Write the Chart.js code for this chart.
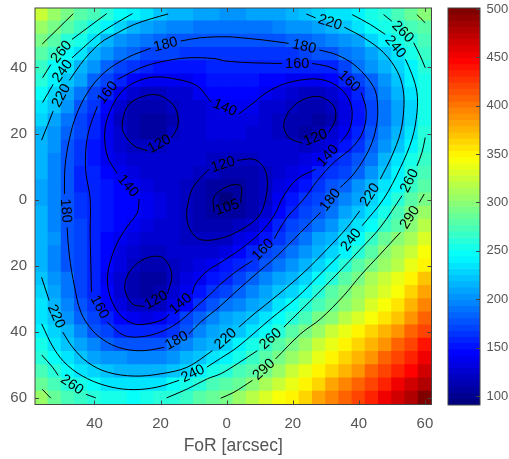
<!DOCTYPE html>
<html>
<head>
<meta charset="utf-8">
<script src="https://cdn.jsdelivr.net/npm/chart.js@4"></script>
<style>
html, body { margin: 0; background: #fff; }
canvas { position: absolute; top: 0; filter: blur(0.35px); }
#myChart { left: 0; }
#colorBar { left: 440px; }
</style>
</head>
<body>
<canvas id="myChart" width="440" height="459"></canvas>
<canvas id="colorBar" width="69" height="459"></canvas>
<script>
// cell centres, in arcsec
var xCenters = [-56,-52,-48,-44,-40,-36,-32,-28,-24,-20,-16,-12,-8,-4,0,4,8,12,16,20,24,28,32,36,40,44,48,52,56,60];
var yCenters = [-56,-52,-48,-44,-40,-36,-32,-28,-24,-20,-16,-12,-8,-4,0,4,8,12,16,20,24,28,32,36,40,44,48,52,56,60];
var xTicks = [-40,-20,0,20,40,60];
var yTicks = [-40,-20,0,20,40,60];
var barTicks = [100,150,200,250,300,350,400,450,500];

var rows = [
    [322,305,293,282,271,259,250,240,232,224,218,214,210,207,206,206,207,209,212,216,220,226,232,237,244,252,261,272,285,298],
    [305,294,280,266,255,241,227,217,208,202,198,194,191,190,189,190,191,193,196,200,204,209,214,221,236,245,252,260,272,283],
    [292,278,262,251,236,216,205,197,189,183,180,178,176,175,175,175,176,177,179,181,185,190,196,203,211,226,244,252,260,271],
    [278,264,249,236,214,204,193,181,174,170,168,166,165,164,163,163,163,163,164,166,170,175,179,188,197,209,223,237,252,264],
    [266,249,236,216,200,184,172,163,155,152,152,153,154,156,158,158,158,157,156,155,155,156,160,174,187,201,215,229,243,259],
    [260,241,222,207,185,170,156,142,137,136,137,141,145,149,152,152,150,147,143,140,137,138,146,156,170,186,205,222,240,257],
    [250,229,212,192,172,159,140,127,121,120,123,128,137,143,146,147,144,139,132,126,122,120,127,141,157,175,195,214,232,254],
    [237,220,202,180,163,146,129,115,112,112,119,124,129,135,138,140,136,129,123,118,113,111,118,132,150,169,190,210,229,252],
    [229,211,191,172,157,140,122,111,107,109,115,123,129,132,134,134,131,126,120,112,110,107,116,131,149,170,189,211,231,252],
    [218,205,184,169,155,137,123,111,107,109,120,125,129,131,131,131,129,126,122,112,108,110,125,138,155,175,197,218,238,258],
    [216,200,180,164,152,138,129,120,118,120,124,127,128,127,126,125,126,127,127,124,122,125,135,149,166,183,206,225,243,261],
    [215,197,177,163,152,141,134,129,126,125,124,124,123,122,121,120,120,123,125,128,133,137,157,167,176,193,213,236,254,268],
    [213,195,176,158,155,146,138,132,128,126,125,124,122,118,113,113,115,121,127,133,139,155,165,174,184,205,223,241,258,275],
    [212,194,176,158,156,149,143,136,130,127,125,122,116,109,104,105,112,120,131,141,154,165,175,186,201,216,233,250,264,282],
    [212,194,178,165,157,152,147,142,136,130,126,122,113,106,92,104,112,120,136,150,163,172,182,197,212,228,243,259,279,294],
    [213,196,178,165,158,152,148,142,136,131,127,120,113,106,105,107,114,127,145,161,170,179,192,207,221,238,254,273,291,304],
    [215,198,180,168,158,151,144,136,131,127,124,121,116,111,112,118,129,141,160,170,180,193,205,219,237,250,264,280,297,317],
    [216,200,180,168,157,146,137,131,127,125,124,122,120,119,122,131,140,153,165,179,192,207,217,232,248,264,287,301,315,331],
    [216,197,179,169,156,145,134,128,121,122,125,126,127,129,135,143,155,169,179,190,202,213,226,243,262,283,298,312,327,343],
    [218,199,179,168,156,143,132,122,116,114,122,126,130,138,149,158,167,177,189,200,215,228,244,262,279,292,306,320,335,352],
    [221,203,187,172,156,141,127,113,107,108,121,132,140,150,160,172,183,198,207,218,231,245,260,281,295,309,323,338,353,367],
    [227,209,190,172,156,142,127,113,108,110,125,136,149,163,173,184,196,208,219,231,244,260,278,291,305,319,333,347,364,381],
    [232,214,196,178,164,148,133,121,119,122,134,146,163,175,187,198,210,218,232,246,260,275,288,301,315,329,343,358,374,393],
    [238,221,201,184,170,157,143,136,134,138,154,170,184,197,207,217,223,236,250,260,276,290,302,316,330,344,358,372,389,407],
    [243,230,214,194,180,168,161,158,156,157,166,180,194,208,216,224,238,250,261,280,294,308,322,336,350,364,378,392,407,423],
    [254,236,222,208,195,184,179,177,176,180,188,198,210,218,228,241,255,265,279,294,308,322,336,350,364,378,392,406,421,437],
    [263,248,235,221,212,205,200,198,197,199,205,213,220,234,243,256,267,281,294,307,321,335,349,363,377,391,405,420,435,450],
    [275,259,247,236,226,220,216,214,215,217,221,229,243,254,263,275,282,295,308,322,336,350,364,378,392,406,420,434,449,464],
    [287,273,262,253,246,238,234,232,232,237,245,255,261,273,281,288,297,311,324,338,352,366,380,394,408,422,436,450,464,479],
    [303,288,276,266,260,254,251,250,252,258,263,270,278,285,293,304,317,330,341,352,366,380,394,408,422,436,450,464,481,497]
];

// contour lines in arcsec, null = gap left for the level label
var c290a = [[-55.8,-47.1],[-46.4,-56.3]];
var c290b = [[57.6,-56],[60.1,-53.5]];
var c290c = [[-55.8,57.4],[-53.2,60.1]];
var c290d = [[59.8,-1.7],[58.3,0.9],null,[52.6,9.9],[46.5,16.5],[40.5,23],[35.4,29.1],[28.4,36.1],[22.4,40.6],[14.8,48.2],null,[7.8,54.7],[2.2,58.3],[-1.8,60.1]];
var c260a = [[-55.7,-36.9],[-53.2,-40.9],null,[-46.8,-48.5],[-42.1,-52],[-36.3,-56.3]];
var c260b = [[47.5,-56],[50,-54],null,[56.6,-47.5],[58.6,-43.5],[60.1,-39.9]];
var c260c = [[60.1,-18.8],[59.1,-14.2],[57.6,-10.2],null,[53.1,-1.2],[46.5,8.4],[40.5,15],[33.4,22.5],[26.4,29.6],[19.8,36.1],[17.3,38.6],null,[9.3,45.7],[3.2,49.7],[-1.8,52.7],[-5.8,54.2],[-11.9,57.3],[-18.2,60]];
var c260d = [[-39.6,60],[-42.6,58.9],null,[-51,53.2],[-52.7,50.7],[-56,47]];
var c240a = [[-55.7,-29.4],[-52.5,-34.9],null,[-46.8,-42.9],[-42.6,-46.7],[-38.1,-50.5],[-33,-53.7],[-28.5,-56.3]];
var c240b = [[38,-56],[43.5,-53],[48,-50],null,[54.1,-42.5],[56.1,-37.9],[57.6,-32.4],[57.6,-26.3],[56.1,-18.3],[52.6,-9.7],[47.5,-0.2],[41,7.9],null,[34.4,16.5],[27.4,23.5],[21.3,29.6],[13.3,36.1],[3.2,44.7],[-1.8,48],[-6,50.7],null,[-14.4,54.7],[-20.9,56.7],[-28,57.5],[-35,56.7],[-42.1,54.2],[-48.1,50.2],[-52.2,45.2],[-56,37.6]];
var c220a = [[-56,-18],[-52.5,-26.8],null,[-47.6,-36.1],[-43.1,-42.4],[-38.1,-47.5],[-33,-50.5],[-28,-53],[-23,-54.7],[-17.7,-56.2]];
var c220b = [[24.1,-56.2],[26.9,-55],null,[35.6,-52.2],[41.5,-49],[47.5,-44.5],[51.6,-38.9],[53.4,-33.4],[53.6,-27.3],[52.6,-20.3],[50,-13.2],[46.5,-6.2],null,[40.3,3.4],[36.5,8.4],[30.4,15],[23.4,22],[15.3,29],[8.3,34.6],[3.7,38.6],null,[-4.3,45.7],[-11.9,50.7],[-19.9,52.7],[-28,53.4],[-36.1,52.2],[-42.1,49.2],[-46.6,44.7],[-49.6,40.1],null,[-53.7,30.6],[-56,23.5]];
var c180 = [[-13.9,-48],[-7.9,-49],[0.2,-49.3],[4.2,-49],[11.3,-48.3],[18.8,-47.3],null,[28.1,-45.3],[33.4,-43.8],[38.5,-40.9],[42.5,-36.9],[45,-32.9],[45.7,-28.3],[45.5,-23.3],[44,-17.3],[41.5,-12.2],[38,-7.2],[34.4,-3.7],null,[28.4,3.9],[22.4,9.9],[15.3,17],[8.3,23],[3.2,27.5],[-1.8,32.1],[-7.9,37.1],[-11.4,40.6],null,[-18.9,44.7],[-25,45.7],[-31,45.2],[-36.1,43.2],[-40.6,39.6],[-44.1,34.1],[-46.1,26],[-47.6,17],[-48.3,8.4],null,[-49.1,-1.7],[-48.9,-10.2],[-47.6,-18.3],[-45.6,-25.3],[-42.1,-32.4],[-37.1,-38.4],[-30,-43],[-23,-45.8]];
var c160 = [[-33,-36.4],[-26,-39.9],[-19.9,-41.7],[-11.9,-42.9],[-3.8,-42.7],[0,-41.9],[8.3,-41.4],[16.8,-41.2],null,[25.9,-41.2],[30.4,-40.4],[33.4,-39.2],null,[40.7,-32.4],[42.2,-27.3],[41.5,-21.3],[38.5,-16.3],[32.4,-11.2],[27.4,-5.7],[23.4,-0.2],[18.3,5.4],[14.3,11.9],null,[7.8,18.5],[3.2,21.5],[-1.8,25.5],[-4.8,28.5],[-8.9,32.1],[-13.9,36.6],[-18.9,39.6],[-25,41.4],[-31,41.1],[-36.1,37.1],null,[-40.9,28],[-41.1,20],[-41.3,9.9],[-41.3,-0.2],[-42.6,-8.2],[-42.6,-15.3],[-41.6,-21.3],[-39.1,-28.3]];
var c140 = [[3.7,-26],[8.3,-29.4],[11.3,-31.9],[16.3,-34.6],[22.4,-36.2],[28.4,-36.4],[33.4,-34.4],[37,-30.4],[38,-25.8],[37,-20.8],[34.4,-17.3],null,[26.9,-9.2],[21.3,-6.2],[17.3,-1.2],[14.3,4.9],[10.3,9.9],[4.2,15],[-1.8,19],[-5.8,21.5],[-9.4,25.5],[-10.4,28.5],null,[-17.4,34.6],[-18.9,36.1],[-24,37.6],[-28,37.6],[-32,35.1],[-35,30.1],[-36.1,24],[-35,18],[-33,12.9],[-30,8],[-27,3.9],[-26.5,-0.2],null,[-33.2,-8],[-36.1,-13.2],[-36.9,-20.3],[-35.5,-26.3],[-32,-32.4],[-28,-35.4],[-22,-37.1],[-14.9,-36.4],[-8.9,-34.4],[-4.8,-29.6]];
var c120a = [[-16.7,-18.8],[-15.4,-20.8],[-14.6,-23.8],[-15.9,-28.3],[-19.9,-31.4],[-24,-31.6],[-29.5,-28.9],[-31.5,-23.8],[-31.2,-20.3],[-28,-16.3],[-24,-14.8]];
var c120b = [[30.9,-20.3],[32.9,-24.3],[32.4,-28.3],[28.4,-31.1],[23.4,-30.4],[19.3,-27.3],[17.3,-22.8],[18.8,-18.8],[22.9,-17.1]];
var c120c = [[-17.9,28.5],[-16.6,23.5],[-17.4,20],[-19.9,17.3],[-25,18],[-29.5,22],[-30.8,27],[-28.5,31.6],[-24.8,32.3]];
var c120d = [[3.2,-11.9],[8.3,-12.2],[11.3,-9.7],[12.3,-5.7],[11.8,-0.2],[9.8,4.9],[4.7,8.9],[-1.8,11.7],[-7.9,12.1],[-10.9,9.4],[-12.1,4.9],[-11.4,-0.2],[-9.9,-4.2],[-5.3,-9.2]];
var c105 = [[4.2,1],[4.4,-1],[4.2,-4.2],[0.7,-4.2],[-3.8,-0.8],[-3.8,3.7]];

// level, points, closed (the last gap wraps round to the first point)
var contourLines = [
    [290,c290a,false],[290,c290b,false],[290,c290c,false],[290,c290d,false],
    [260,c260a,false],[260,c260b,false],[260,c260c,false],[260,c260d,false],
    [240,c240a,false],[240,c240b,false],
    [220,c220a,false],[220,c220b,false],
    [180,c180,true],[160,c160,true],[140,c140,true],
    [120,c120a,true],[120,c120b,true],[120,c120c,true],[120,c120d,true],
    [105,c105,true]
];

var cMin = 90.7;
var cMax = 501;
var nColors = 64;
var textColor = '#555';
var fontFamily = '"Liberation Sans", Arial, sans-serif';

function jet(v) {
    var t = Math.min(nColors - 1, Math.max(0, Math.floor((v - cMin) / (cMax - cMin) * nColors))) / (nColors - 1);
    var f = function (c) { return Math.round(255 * Math.min(1, Math.max(0, 1.5 - Math.abs(4 * t - c)))); };
    return 'rgb(' + f(3) + ',' + f(2) + ',' + f(1) + ')';
}

var cells = [];
var cellColors = [];
yCenters.forEach(function (y, r) {
    xCenters.forEach(function (x, c) {
        cells.push({ x: x, y: [y - 2, y + 2] });
        cellColors.push(jet(rows[r][c]));
    });
});

var datasets = [{
    type: 'bar',
    data: cells,
    backgroundColor: cellColors,
    barPercentage: 1,
    categoryPercentage: 1,
    inflateAmount: 0.6,
    order: 2
}];
contourLines.forEach(function (line) {
    datasets.push({
        type: 'line',
        data: line[1].map(function (p) { return p ? { x: p[0], y: p[1] } : { x: NaN, y: NaN }; }),
        borderColor: '#000',
        borderWidth: 1,
        tension: 0.35,
        pointRadius: 0,
        spanGaps: false,
        order: 1
    });
});

// the tick labels must not push the plot area in
function noLabelMargins(s) {
    s.paddingLeft = 0;
    s.paddingRight = 0;
    s.paddingTop = 0;
    s.paddingBottom = 0;
}

function drawAxesBox(chart, ctx, xs, ys) {
    var a = chart.chartArea;
    ctx.strokeStyle = '#444';
    ctx.lineWidth = 1;
    ctx.beginPath();
    xs.forEach(function (v) {
        var px = Math.round(chart.scales.x.getPixelForValue(v)) + 0.5;
        ctx.moveTo(px, a.bottom); ctx.lineTo(px, a.bottom - 4);
        ctx.moveTo(px, a.top); ctx.lineTo(px, a.top + 4);
    });
    ys.forEach(function (v) {
        var py = Math.round(chart.scales.y.getPixelForValue(v)) + 0.5;
        if (xs.length) {
            ctx.moveTo(a.left, py); ctx.lineTo(a.left + 4, py);
        }
        ctx.moveTo(a.right, py); ctx.lineTo(a.right - 4, py);
    });
    ctx.stroke();
    ctx.strokeRect(a.left, a.top, a.right - a.left, a.bottom - a.top);
}

function drawLabel(chart, ctx, level, p, q) {
    var x1 = chart.scales.x.getPixelForValue(p[0]);
    var y1 = chart.scales.y.getPixelForValue(p[1]);
    var x2 = chart.scales.x.getPixelForValue(q[0]);
    var y2 = chart.scales.y.getPixelForValue(q[1]);
    if (x2 < x1) {
        var tx = x1, ty = y1;
        x1 = x2; y1 = y2; x2 = tx; y2 = ty;
    }
    ctx.save();
    ctx.translate((x1 + x2) / 2, (y1 + y2) / 2);
    ctx.rotate(Math.atan2(y2 - y1, x2 - x1));
    ctx.fillStyle = '#000';
    ctx.font = '14.5px ' + fontFamily;
    ctx.textAlign = 'center';
    ctx.textBaseline = 'middle';
    ctx.fillText(String(level), 0, 0);
    ctx.restore();
}

var contourLabels = {
    id: 'contourLabels',
    afterDatasetsDraw: function (chart) {
        var ctx = chart.ctx;
        contourLines.forEach(function (line) {
            var pts = line[1];
            pts.forEach(function (p, i) {
                if (p === null) drawLabel(chart, ctx, line[0], pts[i - 1], pts[i + 1]);
            });
            if (line[2]) drawLabel(chart, ctx, line[0], pts[pts.length - 1], pts[0]);
        });
        drawAxesBox(chart, ctx, xTicks, yTicks);
    }
};

var chart = new Chart(document.getElementById('myChart').getContext('2d'), {
    type: 'bar',
    data: { datasets: datasets },
    plugins: [contourLabels],
    options: {
        responsive: false,
        animation: false,
        layout: { padding: { top: 8, right: 8.5, left: 0, bottom: 0 } },
        plugins: { legend: { display: false }, tooltip: { enabled: false } },
        scales: {
            x: {
                type: 'linear',
                offset: false,
                min: -58,
                max: 62,
                grid: { display: false, drawTicks: false },
                border: { display: false },
                afterBuildTicks: function (s) { s.ticks = xTicks.map(function (v) { return { value: v }; }); },
                afterFit: function (s) { s.height = 54.5; noLabelMargins(s); },
                ticks: {
                    color: textColor,
                    padding: 10.5,
                    maxRotation: 0,
                    font: { size: 15, family: fontFamily },
                    callback: function (v) { return Math.abs(v); }
                },
                title: {
                    display: true,
                    text: 'FoR [arcsec]',
                    color: textColor,
                    padding: { top: 3, bottom: 2 },
                    font: { size: 17.5, family: fontFamily }
                }
            },
            y: {
                type: 'linear',
                reverse: true,
                min: -58,
                max: 62,
                grid: { display: false, drawTicks: false },
                border: { display: false },
                afterBuildTicks: function (s) { s.ticks = yTicks.map(function (v) { return { value: v }; }); },
                afterFit: function (s) { s.width = 35; noLabelMargins(s); },
                ticks: {
                    color: textColor,
                    padding: 8,
                    font: { size: 15, family: fontFamily },
                    callback: function (v) { return Math.abs(v); }
                }
            }
        }
    }
});

// colour bar: one floating bar per colormap level
var barCells = [];
var barColors = [];
for (var i = 0; i < nColors; i++) {
    var lo = cMin + (cMax - cMin) * i / nColors;
    var hi = cMin + (cMax - cMin) * (i + 1) / nColors;
    barCells.push({ x: 0.5, y: [lo, hi] });
    barColors.push(jet((lo + hi) / 2));
}

var colorBar = new Chart(document.getElementById('colorBar').getContext('2d'), {
    type: 'bar',
    data: { datasets: [{ data: barCells, backgroundColor: barColors, barPercentage: 1, categoryPercentage: 1 }] },
    plugins: [{
        id: 'barBox',
        afterDatasetsDraw: function (c) { drawAxesBox(c, c.ctx, [], barTicks); }
    }],
    options: {
        responsive: false,
        animation: false,
        layout: { padding: { top: 8, bottom: 54, left: 8, right: 0 } },
        plugins: { legend: { display: false }, tooltip: { enabled: false } },
        scales: {
            x: { type: 'linear', offset: false, min: 0, max: 1, display: false },
            y: {
                type: 'linear',
                position: 'right',
                min: cMin,
                max: cMax,
                grid: { display: false, drawTicks: false },
                border: { display: false },
                afterBuildTicks: function (s) { s.ticks = barTicks.map(function (v) { return { value: v }; }); },
                afterFit: function (s) { s.width = 29; noLabelMargins(s); },
                ticks: {
                    color: textColor,
                    padding: 6.5,
                    font: { size: 13, family: fontFamily }
                }
            }
        }
    }
});
</script>
</body>
</html>
